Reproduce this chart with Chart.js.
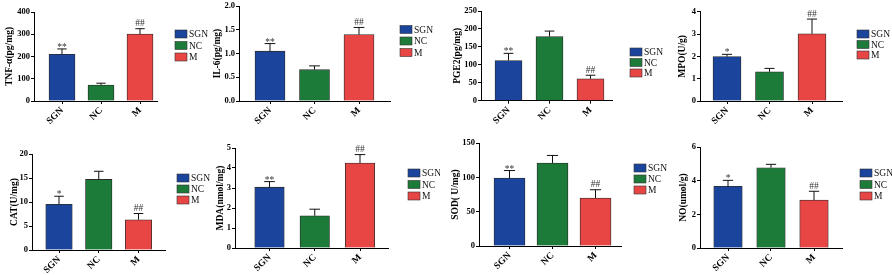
<!DOCTYPE html>
<html><head><meta charset="utf-8">
<script src="https://cdn.jsdelivr.net/npm/chart.js@4/dist/chart.umd.min.js"></script>
<style>
html,body{margin:0;padding:0;background:#fff;width:892px;height:275px;overflow:hidden;position:relative;}
.p{position:absolute;}
</style></head><body>
<script>
// ---- data ----
const groups = ['SGN', 'NC', 'M'];

const tnfMean = [210, 72, 301];   const tnfErr = [24, 8, 24];   const tnfSig = ['**', '', '##'];
const il6Mean = [1.05, 0.66, 1.40]; const il6Err = [0.16, 0.08, 0.15]; const il6Sig = ['**', '', '##'];
const pge2Mean = [112, 179, 61];  const pge2Err = [20, 15, 10];  const pge2Sig = ['**', '', '##'];
const mpoMean = [1.99, 1.31, 3.01]; const mpoErr = [0.10, 0.15, 0.66]; const mpoSig = ['*', '', '##'];
const catMean = [9.5, 14.7, 6.3]; const catErr = [1.7, 1.7, 1.3]; const catSig = ['*', '', '##'];
const mdaMean = [3.04, 1.61, 4.25]; const mdaErr = [0.28, 0.33, 0.42]; const mdaSig = ['**', '', '##'];
const sodMean = [99, 121, 70];    const sodErr = [11, 11, 12];   const sodSig = ['**', '', '##'];
const noMean = [3.66, 4.77, 2.85]; const noErr = [0.36, 0.20, 0.52]; const noSig = ['*', '', '##'];

const yTitles = ['TNF-α(pg/mg)', 'IL-6(pg/mg)', 'PGE2(pg/mg)', 'MPO(U/g)', 'CAT(U/mg)', 'MDA(nmol/mg)', 'SOD( U/mg)', 'NO(umol/g)'];
const yMaxes = [400, 2, 250, 4, 20, 5, 150, 6];
const ySteps = [100, 0.5, 50, 1, 5, 1, 50, 2];
const yDecimals = [0, 1, 0, 0, 0, 0, 0, 0];

// ---- styles / layout ----
const fills = ['#1b449c', '#1d7b39', '#e84545'];
const SERIF = '"Liberation Serif", "Times New Roman", serif';

const geoms = [
  {left:0,   top:0,   w:223, h:137, yAxis:34,  topY:12,  zeroY:101, axisEnd:157, c0:62,    c2:140,   barW:26,   legX:175, legY:34,  legGap:11.5, titleX:10},
  {left:212, top:0,   w:228, h:137, yAxis:239, topY:4.5, zeroY:101, axisEnd:390, c0:270,   c2:359,   barW:30,   legX:400, legY:29.5,legGap:11.5, titleX:218},
  {left:446, top:0,   w:223, h:137, yAxis:481, topY:11,  zeroY:100.7,axisEnd:612,c0:508.5, c2:590.5, barW:27,   legX:630, legY:52,  legGap:10.5, titleX:458},
  {left:669, top:0,   w:223, h:137, yAxis:700, topY:11.7,zeroY:101, axisEnd:842, c0:727,   c2:812,   barW:28,   legX:857, legY:34,  legGap:10.5, titleX:683},
  {left:0,   top:137, w:223, h:138, yAxis:32,  topY:154, zeroY:250, axisEnd:165, c0:59,    c2:138.5, barW:26.5, legX:177, legY:178, legGap:11,   titleX:15},
  {left:212, top:137, w:228, h:138, yAxis:235, topY:148, zeroY:248, axisEnd:388, c0:269.5, c2:360,   barW:29.5, legX:408, legY:173, legGap:11.5, titleX:221},
  {left:446, top:137, w:223, h:138, yAxis:479, topY:140, zeroY:246, axisEnd:621, c0:509.5, c2:595.5, barW:31,   legX:634, legY:168, legGap:11,   titleX:456},
  {left:669, top:137, w:223, h:138, yAxis:700, topY:147, zeroY:248, axisEnd:842, c0:728,   c2:814,   barW:28.5, legX:860, legY:173, legGap:11.5, titleX:684}
];

const panels = [
  {mean: tnfMean, err: tnfErr, sig: tnfSig},
  {mean: il6Mean, err: il6Err, sig: il6Sig},
  {mean: pge2Mean, err: pge2Err, sig: pge2Sig},
  {mean: mpoMean, err: mpoErr, sig: mpoSig},
  {mean: catMean, err: catErr, sig: catSig},
  {mean: mdaMean, err: mdaErr, sig: mdaSig},
  {mean: sodMean, err: sodErr, sig: sodSig},
  {mean: noMean, err: noErr, sig: noSig}
];

function makePanel(idx) {
  const p = panels[idx], g = geoms[idx];
  const div = document.createElement('div');
  div.className = 'p';
  div.style.left = g.left + 'px'; div.style.top = g.top + 'px';
  div.style.width = g.w + 'px'; div.style.height = g.h + 'px';
  const cv = document.createElement('canvas');
  cv.width = g.w; cv.height = g.h;
  cv.style.width = g.w + 'px'; cv.style.height = g.h + 'px';
  div.appendChild(cv);
  document.body.appendChild(div);

  const s = (g.c2 - g.c0) / 2;
  const titleSize = 9.5;
  const decimals = yDecimals[idx];

  const errPlugin = {
    id: 'errbars',
    afterDatasetsDraw(chart) {
      const ctx = chart.ctx;
      const ys = chart.scales.y;
      ctx.save();
      groups.forEach((name, i) => {
        const el = chart.getDatasetMeta(i).data[0];
        const x = el.x;
        const yTop = ys.getPixelForValue(p.mean[i]);
        const yErr = ys.getPixelForValue(p.mean[i] + p.err[i]);
        const cap = el.width * 0.36;
        ctx.strokeStyle = '#111';
        ctx.lineWidth = 1;
        ctx.beginPath();
        ctx.moveTo(x, yTop); ctx.lineTo(x, yErr);
        ctx.moveTo(x - cap / 2, yErr); ctx.lineTo(x + cap / 2, yErr);
        ctx.stroke();
        if (p.sig[i]) {
          ctx.fillStyle = '#333';
          ctx.font = '9.5px ' + SERIF;
          ctx.textAlign = 'center';
          ctx.textBaseline = 'alphabetic';
          const off = p.sig[i].indexOf('*') >= 0 ? -1 : 2.5;
          ctx.fillText(p.sig[i], x, yErr - off);
        }
      });
      ctx.restore();
    },
    afterDraw(chart) {
      const ctx = chart.ctx;
      ctx.save();
      groups.forEach((name, i) => {
        const bx = g.legX - g.left;
        const by = g.legY - g.top + i * g.legGap;
        ctx.fillStyle = fills[i];
        ctx.fillRect(bx, by - 4, 12, 8);
        ctx.strokeStyle = '#333';
        ctx.lineWidth = 0.6;
        ctx.strokeRect(bx, by - 4, 12, 8);
        ctx.fillStyle = '#111';
        ctx.font = '9.5px ' + SERIF;
        ctx.textAlign = 'left';
        ctx.textBaseline = 'middle';
        ctx.fillText(name, bx + 14, by + 0.5);
      });
      ctx.restore();
    }
  };

  new Chart(cv, {
    type: 'bar',
    data: {
      datasets: groups.map((name, i) => ({
        label: name,
        data: [{x: i, y: p.mean[i]}],
        backgroundColor: fills[i],
        borderColor: '#2b2b2b',
        borderWidth: 0.8,
        barThickness: g.barW,
        grouped: false
      }))
    },
    options: {
      responsive: false,
      animation: false,
      devicePixelRatio: 1,
      layout: {padding: {left: 0, top: g.topY - g.top, right: g.left + g.w - g.axisEnd, bottom: 0}},
      plugins: {legend: {display: false}, tooltip: {enabled: false}},
      scales: {
        x: {
          type: 'linear',
          offset: false,
          min: -(g.c0 - g.yAxis) / s,
          max: 2 + (g.axisEnd - g.c2) / s,
          grid: {display: true, offset: false, drawOnChartArea: false, drawTicks: true, tickLength: 3, color: '#000', lineWidth: 1},
          border: {display: true, color: '#000', width: 1},
          ticks: {
            stepSize: 1, includeBounds: false, autoSkip: false,
            minRotation: 45, maxRotation: 50, padding: 1, color: '#000',
            font: {family: SERIF, weight: 'bold', size: 9.5},
            callback: (v) => (Number.isInteger(v) && v >= 0 && v < groups.length) ? groups[v] : ''
          },
          afterCalculateLabelRotation: (sc) => { sc.labelRotation = 45; },
          afterFit: (sc) => { sc.height = g.top + g.h - g.zeroY; }
        },
        y: {
          min: 0, max: yMaxes[idx],
          grid: {display: true, drawOnChartArea: false, drawTicks: true, tickLength: 3, color: '#000', lineWidth: 1},
          border: {display: true, color: '#000', width: 1},
          ticks: {
            stepSize: ySteps[idx], padding: 1, color: '#000',
            font: {family: SERIF, weight: 'bold', size: 8.5},
            callback: (v) => Number(v).toFixed(decimals)
          },
          title: {
            display: true, text: yTitles[idx], color: '#000',
            font: {family: SERIF, weight: 'bold', size: titleSize, lineHeight: 1.2},
            padding: {top: Math.max(0, g.titleX - g.left - titleSize * 0.6), bottom: 0}
          },
          afterFit: (sc) => { sc.width = g.yAxis - g.left; }
        }
      }
    },
    plugins: [errPlugin]
  });
}

for (let i = 0; i < panels.length; i++) makePanel(i);
</script>
</body></html>
